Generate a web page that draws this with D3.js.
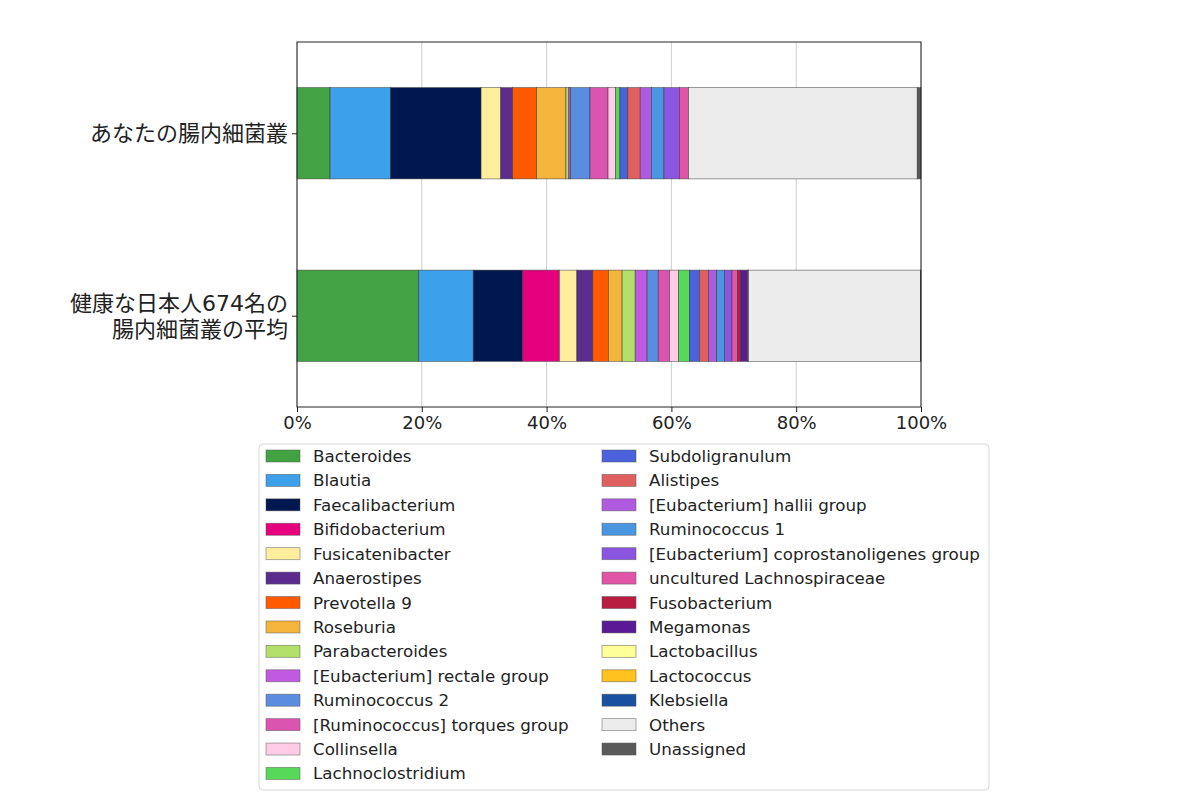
<!DOCTYPE html>
<html>
<head>
<meta charset="utf-8">
<script src="https://cdn.jsdelivr.net/npm/d3@7"></script>
<style>
  body { margin: 0; background: #fff; }
  text { font-family: "DejaVu Sans", sans-serif; fill: #222; }
  .jp { font-family: "DejaVu Sans", "Noto Sans CJK JP", sans-serif; }
</style>
</head>
<body>
<svg id="chart"></svg>
<script>
const samples = ["あなたの腸内細菌叢", "健康な日本人674名の\n腸内細菌叢の平均"];

const genera = [
  "Bacteroides", "Blautia", "Faecalibacterium", "Bifidobacterium", "Fusicatenibacter",
  "Anaerostipes", "Prevotella 9", "Roseburia", "Parabacteroides", "[Eubacterium] rectale group",
  "Ruminococcus 2", "[Ruminococcus] torques group", "Collinsella", "Lachnoclostridium",
  "Subdoligranulum", "Alistipes", "[Eubacterium] hallii group", "Ruminococcus 1",
  "[Eubacterium] coprostanoligenes group", "uncultured Lachnospiraceae", "Fusobacterium",
  "Megamonas", "Lactobacillus", "Lactococcus", "Klebsiella", "Others", "Unassigned"
];

const colors = [
  "#43a343", "#3ca0ea", "#00174f", "#e6007e", "#ffee9e",
  "#5b2c8e", "#ff5a00", "#f5b43c", "#b3e06a", "#c05ae0",
  "#5a8ce0", "#db55b0", "#ffcce6", "#58d858",
  "#4a62dc", "#e06060", "#b05ae0", "#4a96e0",
  "#8a55e0", "#e055a5", "#b81c40",
  "#5a1a96", "#ffff99", "#ffc21f", "#1a50a0", "#ececec", "#5a5a5a"
];

// percent of reads, same order as genera
const yourValues = [
  5.3, 9.7, 14.5, 0, 3.15,
  1.9, 3.85, 4.7, 0.45, 0.3,
  3.1, 2.9, 1.2, 0.7,
  1.25, 2.0, 1.8, 2.0,
  2.5, 1.45, 0,
  0, 0, 0, 0, 36.65, 0.6
];
const averageValues = [
  19.5, 8.75, 7.9, 5.9, 2.8,
  2.55, 2.5, 2.2, 2.1, 1.9,
  1.8, 1.8, 1.45, 1.75,
  1.6, 1.45, 1.3, 1.25,
  1.2, 0.9, 0.5,
  1.1, 0.05, 0.05, 0.05, 27.55, 0.1
];

const xTicks = [0, 20, 40, 60, 80, 100];

const W = 1200, H = 804;
const plot = { left: 297, right: 921, top: 42, bottom: 407 };

const svg = d3.select("#chart").attr("width", W).attr("height", H);

const x = d3.scaleLinear().domain([0, 100]).range([plot.left, plot.right]);
const y = d3.scaleLinear().domain([-0.5, 1.5]).range([plot.top, plot.bottom]);
const barH = y(0.25) - y(-0.25);

// grid
svg.append("g").selectAll("line")
  .data(xTicks)
  .join("line")
  .attr("x1", d => x(d)).attr("x2", d => x(d))
  .attr("y1", plot.top).attr("y2", plot.bottom)
  .attr("stroke", "#cfcfcf").attr("stroke-width", 1);

// stacked bars
const rows = [yourValues, averageValues];
rows.forEach((vals, i) => {
  let acc = 0;
  const segs = vals.map((v, j) => {
    const s = { start: acc, value: v, color: colors[j] };
    acc += v;
    return s;
  }).filter(s => s.value > 0);

  svg.append("g").selectAll("rect")
    .data(segs)
    .join("rect")
    .attr("x", d => x(d.start))
    .attr("y", y(i) - barH / 2)
    .attr("width", d => x(d.start + d.value) - x(d.start))
    .attr("height", barH)
    .attr("fill", d => d.color)
    .attr("stroke", "#333")
    .attr("stroke-opacity", 0.7)
    .attr("stroke-width", 0.7);
});

// frame
svg.append("rect")
  .attr("x", plot.left).attr("y", plot.top)
  .attr("width", plot.right - plot.left).attr("height", plot.bottom - plot.top)
  .attr("fill", "none").attr("stroke", "#222").attr("stroke-width", 1);

// x axis
const xAxis = d3.axisBottom(x).tickValues(xTicks).tickFormat(d => d + "%").tickSize(5).tickPadding(4);
const xg = svg.append("g").attr("transform", `translate(0,${plot.bottom})`).call(xAxis);
xg.select(".domain").remove();
xg.selectAll("text").style("font-size", "18px").style("font-family", "DejaVu Sans").attr("fill", "#222");
xg.selectAll("line").attr("stroke", "#222");

// y axis
const yAxis = d3.axisLeft(y).tickValues([0, 1]).tickFormat("").tickSize(5);
const yg = svg.append("g").attr("transform", `translate(${plot.left},0)`).call(yAxis);
yg.select(".domain").remove();
yg.selectAll("line").attr("stroke", "#222");

samples.forEach((label, i) => {
  const lines = label.split("\n");
  lines.forEach((ln, k) => {
    svg.append("text")
      .attr("class", "jp")
      .attr("text-anchor", "end")
      .style("font-size", "22px")
      .attr("x", plot.left - 9)
      .attr("y", y(i) + (k - (lines.length - 1) / 2) * 26)
      .attr("dy", "0.36em")
      .text(ln);
  });
});

// legend
const legend = svg.append("g");
legend.append("rect")
  .attr("x", 259).attr("y", 444).attr("width", 730).attr("height", 346)
  .attr("rx", 4)
  .attr("fill", "#fff").attr("stroke", "#d6d6d6").attr("stroke-width", 1);

const perCol = Math.ceil(genera.length / 2);
const colX = [266, 602];
const rowStep = 24.42;
const items = legend.selectAll("g.item")
  .data(genera.map((g, i) => ({ name: g, color: colors[i], col: Math.floor(i / perCol), row: i % perCol })))
  .join("g")
  .attr("class", "item")
  .attr("transform", d => `translate(${colX[d.col]},${456 + d.row * rowStep})`);

items.append("rect")
  .attr("x", 0).attr("y", -6).attr("width", 34).attr("height", 12)
  .attr("fill", d => d.color)
  .attr("stroke", "#555").attr("stroke-opacity", 0.6).attr("stroke-width", 0.8);

items.append("text")
  .attr("x", 47).attr("dy", "0.36em")
  .style("font-size", "16.7px")
  .text(d => d.name);
</script>
</body>
</html>
